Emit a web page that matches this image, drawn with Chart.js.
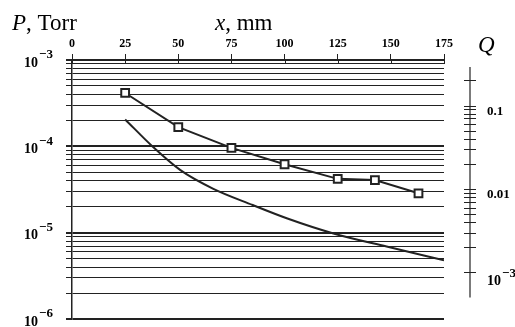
<!DOCTYPE html>
<html>
<head>
<meta charset="utf-8">
<script src="https://cdn.jsdelivr.net/npm/chart.js@4/dist/chart.umd.min.js"></script>
<style>
  html, body { margin: 0; padding: 0; background: #fff; }
  #wrap { width: 515px; height: 327px; }
</style>
</head>
<body>
<div id="wrap"><canvas id="myChart" width="515" height="327"></canvas></div>
<script>
// x, mm (top axis)
const xTicks = [0, 25, 50, 75, 100, 125, 150, 175];

// P, Torr (left axis, log)
const pDecades = [1e-6, 1e-5, 1e-4, 1e-3];
const pLabelText = ["10^-6", "10^-5", "10^-4", "10^-3"];
const mantissas = [1, 2, 3, 4, 5, 6, 7, 8, 9];

// Q (right axis, log)
const qDecades = [0.001, 0.01, 0.1];
const qLabelValues = [0.1, 0.01, 0.001];
const qLabelText = ["0.1", "0.01", "10^-3"];
const qAxisRange = [5e-4, 0.29];
const qScaleRange = [2.77e-4, 0.351];

// measured points (squares)
const measX = [25, 50, 75, 100, 125, 142.5, 163];
const measP = [4.15e-4, 1.67e-4, 9.6e-5, 6.2e-5, 4.2e-5, 4.07e-5, 2.86e-5];

// calculated curve
const calcX = [25, 38, 51, 66.5, 85, 101, 123, 148, 175];
const calcP = [2.05e-4, 9.9e-5, 5.3e-5, 3.22e-5, 2.09e-5, 1.47e-5, 9.8e-6, 6.9e-6, 4.8e-6];

const serif = '"Liberation Serif", "Times New Roman", serif';
const ctx = document.getElementById("myChart");

// grid values for the P axis: 1..9 times each decade
const pGrid = [];
pDecades.forEach((d) => {
  mantissas.forEach((m) => {
    const v = +(m * d).toPrecision(3);
    if (v <= 1e-3) pGrid.push({ value: v, major: m === 1 });
  });
});

const qGrid = [];
qDecades.forEach((d) => {
  mantissas.forEach((m) => {
    const v = +(m * d).toPrecision(3);
    if (v >= qAxisRange[0] && v <= qAxisRange[1]) qGrid.push(v);
  });
});

function powerLabel(c, text, x, y) {
  // draws "0.1" or "10^-3" style labels starting at x
  c.textAlign = "left";
  c.textBaseline = "middle";
  if (text.indexOf("^") < 0) {
    c.font = "bold 13px " + serif;
    c.fillText(text, x, y);
    return;
  }
  const parts = text.split("^");
  c.font = "bold 14px " + serif;
  c.fillText(parts[0], x, y + 3);
  const w = c.measureText(parts[0]).width;
  c.font = "bold 13px " + serif;
  c.fillText(parts[1].replace("-", "\u2212"), x + w + 1, y - 5);
}

const extras = {
  id: "extras",
  afterDraw(chart) {
    const c = chart.ctx;
    const area = chart.chartArea;
    const yP = chart.scales.y;
    const yQ = chart.scales.q;
    c.save();
    c.fillStyle = "#000";
    c.strokeStyle = "#222";

    // left decade labels
    pDecades.forEach((d, i) => {
      powerLabel(c, pLabelText[i], area.left - 48, yP.getPixelForValue(d));
    });

    // top ticks cross the frame line a little
    c.lineWidth = 1;
    xTicks.forEach((v) => {
      const px = Math.round(chart.scales.x.getPixelForValue(v)) + 0.5;
      c.beginPath();
      c.moveTo(px, area.top);
      c.lineTo(px, area.top + 4);
      c.stroke();
    });

    // Q axis: line, ticks, labels
    const qx = area.right + 26;
    c.lineWidth = 1.2;
    c.beginPath();
    c.moveTo(qx, yQ.getPixelForValue(qAxisRange[1]));
    c.lineTo(qx, yQ.getPixelForValue(qAxisRange[0]));
    c.stroke();
    c.lineWidth = 1;
    qGrid.forEach((v) => {
      const py = Math.round(yQ.getPixelForValue(v)) + 0.5;
      c.beginPath();
      c.moveTo(qx - 6, py);
      c.lineTo(qx + 6, py);
      c.stroke();
    });
    qLabelValues.forEach((v, i) => {
      powerLabel(c, qLabelText[i], qx + 17, yQ.getPixelForValue(v) + 6);
    });

    // axis titles
    c.textBaseline = "alphabetic";
    c.textAlign = "left";
    c.font = "italic 23px " + serif;
    c.fillText("P", 12, 30);
    let w = c.measureText("P").width;
    c.font = "23px " + serif;
    c.fillText(", Torr", 12 + w, 30);

    c.font = "italic 23px " + serif;
    c.fillText("x", 215, 30);
    w = c.measureText("x").width;
    c.font = "23px " + serif;
    c.fillText(", mm", 215 + w, 30);

    c.font = "italic 23px " + serif;
    c.fillText("Q", area.right + 34, 52);
    c.restore();
  },
};

new Chart(ctx, {
  type: "line",
  data: {
    datasets: [
      {
        label: "measured",
        data: measX.map((x, i) => ({ x: x, y: measP[i] })),
        borderColor: "#222",
        borderWidth: 2,
        pointStyle: "rect",
        pointRadius: 5.5,
        pointBorderWidth: 2,
        pointBackgroundColor: "#fff",
        pointBorderColor: "#222",
        tension: 0,
      },
      {
        label: "calculated",
        data: calcX.map((x, i) => ({ x: x, y: calcP[i] })),
        borderColor: "#222",
        borderWidth: 2,
        pointRadius: 0,
        cubicInterpolationMode: "monotone",
      },
    ],
  },
  options: {
    responsive: false,
    animation: false,
    layout: { padding: { top: 0, left: 0, right: 0, bottom: 8 } },
    plugins: { legend: { display: false }, tooltip: { enabled: false } },
    scales: {
      x: {
        type: "linear",
        position: "top",
        min: 0,
        max: 175,
        afterBuildTicks: (s) => { s.ticks = xTicks.map((v) => ({ value: v })); },
        afterFit: (s) => { s.height = 60; },
        grid: { drawOnChartArea: false, tickLength: 6, color: "#222" },
        border: { display: true, color: "#222" },
        ticks: {
          color: "#000",
          font: { family: serif, size: 12, weight: "bold" },
          padding: 3,
          maxRotation: 0,
          autoSkip: false,
        },
      },
      y: {
        type: "logarithmic",
        position: "left",
        min: 1e-6,
        max: 1e-3,
        afterBuildTicks: (s) => { s.ticks = pGrid.map((t) => ({ value: t.value, major: t.major })); },
        afterFit: (s) => { s.width = 72; },
        grid: {
          color: "#222",
          lineWidth: (c) => (c.tick && c.tick.major ? 2 : 1),
          tickLength: 6,
        },
        border: { display: true, color: "#222", width: 1.5 },
        ticks: { display: false, autoSkip: false },
      },
      q: {
        type: "logarithmic",
        position: "right",
        min: qScaleRange[0],
        max: qScaleRange[1],
        afterBuildTicks: (s) => { s.ticks = qGrid.map((v) => ({ value: v })); },
        afterFit: (s) => { s.width = 71; },
        grid: { display: false },
        border: { display: false },
        ticks: { display: false, autoSkip: false },
      },
    },
  },
  plugins: [extras],
});
</script>
</body>
</html>
